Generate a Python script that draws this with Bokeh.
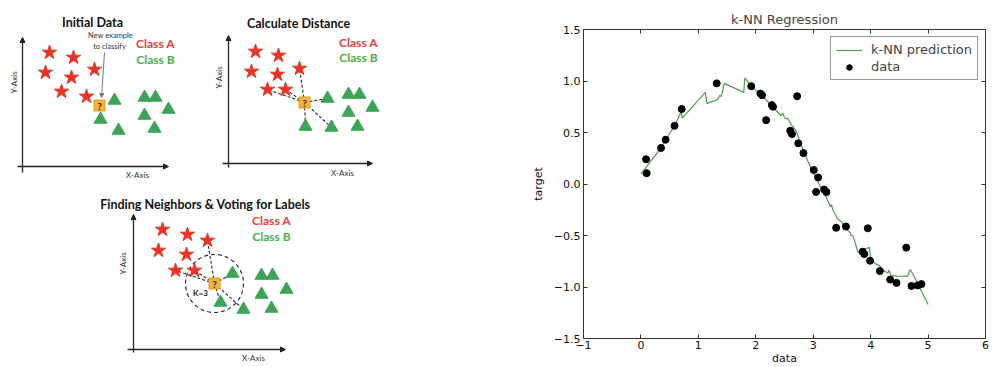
import numpy as np
from bokeh.plotting import figure
from bokeh.models import (Range1d, FixedTicker, LinearAxis, Legend, LegendItem,
                          Arrow, NormalHead, Spacer)
from bokeh.layouts import row, column
from bokeh.core.properties import value
from bokeh.embed import file_html
from bokeh.resources import INLINE

# ---------------- k-NN regression data (right chart) ----------------
data_x = [0.09, 0.10, 0.35, 0.43, 0.585, 0.71, 1.32, 1.92, 2.08, 2.11, 2.18, 2.28,
          2.30, 2.60, 2.63, 2.72, 2.74, 2.83, 3.01, 3.05, 3.085, 3.19, 3.23, 3.40,
          3.57, 3.86, 3.89, 3.95, 3.99, 4.16, 4.34, 4.45, 4.62, 4.71, 4.82, 4.885]
data_y = [0.24, 0.105, 0.35, 0.43, 0.565, 0.728, 0.977, 0.95, 0.878, 0.862, 0.62, 0.766,
          0.75, 0.517, 0.485, 0.852, 0.395, 0.30, 0.136, -0.077, 0.063, -0.054, -0.078, -0.425,
          -0.413, -0.657, -0.68, -0.43, -0.745, -0.845, -0.928, -0.96, -0.618, -0.99, -0.985, -0.972]

pred_x = [0.0, 0.35, 0.43, 0.585, 0.70, 0.72, 1.12, 1.15, 1.22, 1.27, 1.32, 1.35, 1.37,
          1.40, 1.45, 1.79, 1.81, 1.92, 2.10, 2.29, 2.44, 2.47, 2.50, 2.56, 2.62, 2.70,
          2.76, 2.85, 2.96, 3.02, 3.11, 3.22, 3.30, 3.32, 3.34, 3.43, 3.47, 3.50, 3.57,
          3.64, 3.66, 3.69, 3.72, 3.78, 3.86, 3.98, 4.00, 4.10, 4.15, 4.22, 4.30, 4.32,
          4.35, 4.46, 4.64, 4.69, 4.76, 5.00]
pred_y = [0.095, 0.35, 0.43, 0.565, 0.70, 0.64, 0.89, 0.78, 0.80, 0.805, 0.815, 0.83, 0.86,
          0.85, 0.977, 0.89, 1.03, 0.95, 0.86, 0.755, 0.66, 0.69, 0.64, 0.635, 0.574, 0.52,
          0.424, 0.296, 0.152, 0.088, -0.01, -0.12, -0.22, -0.20, -0.25, -0.34, -0.36, -0.37,
          -0.44, -0.47, -0.50, -0.50, -0.55, -0.665, -0.64, -0.615, -0.74, -0.78, -0.79,
          -0.84, -0.865, -0.838, -0.886, -0.895, -0.896, -0.83, -0.90, -1.17]

x_ticks = [-1, 0, 1, 2, 3, 4, 5, 6]
x_tick_labels = ["\u22121", "0", "1", "2", "3", "4", "5", "6"]
y_ticks = [-1.5, -1.0, -0.5, 0.0, 0.5, 1.0, 1.5]
y_tick_labels = ["\u22121.5", "\u22121.0", "\u22120.5", "0.0", "0.5", "1.0", "1.5"]

# ---------------- illustration data (left panels, local units) ----------------
p1_star_x = [2.7, 5.1, 2.3, 4.9, 7.2, 3.9, 6.4]
p1_star_y = [11.4, 10.9, 9.4, 8.9, 9.7, 7.5, 7.0]
p1_tri_x = [9.2, 7.8, 9.6, 12.2, 13.3, 12.2, 14.6, 13.2]
p1_tri_y = [6.6, 4.7, 3.6, 6.9, 6.9, 5.1, 5.7, 3.8]
p1_new = (7.7, 6.1)

p2_star_x = [2.7, 5.0, 2.3, 4.9, 7.1, 3.9, 5.7]
p2_star_y = [11.2, 10.8, 9.2, 8.9, 9.5, 7.4, 7.4]
p2_tri_x = [9.9, 12.0, 13.1, 12.0, 14.4, 7.7, 10.3, 12.9]
p2_tri_y = [6.5, 6.9, 6.9, 5.1, 5.6, 3.7, 3.6, 3.7]
p2_new = (7.6, 6.1)

p3_star_x = [2.9, 5.4, 7.4, 2.5, 5.3, 4.2, 6.1]
p3_star_y = [12.0, 11.5, 10.9, 9.9, 9.5, 7.9, 7.9]
p3_tri_x = [9.9, 12.8, 13.9, 12.8, 15.3, 8.7, 11.0, 13.8]
p3_tri_y = [7.6, 7.4, 7.4, 5.5, 6.0, 4.7, 4.0, 4.1]
p3_new = (8.1, 6.6)
k_radius = 2.9

near_stars = [4, 5, 6]
near_tris = [0, 5, 6]
near_stars_p3 = [2, 5, 6]

RED = "#ea3326"
GREEN = "#3da555"
ORANGE = "#f6b23a"
CLS_A = "#f03a3a"
CLS_B = "#4cae4c"
FONT = "Lato"


def panel(w, h, xr, yr):
    p = figure(width=w, height=h, x_range=Range1d(*xr), y_range=Range1d(*yr),
               output_backend="svg", toolbar_location=None, min_border=0)
    p.axis.visible = False
    p.grid.visible = False
    p.outline_line_color = None
    p.background_fill_color = "white"
    p.border_fill_color = "white"
    return p


def draw_axes(p, ytop, xright, ybot, xleft, ylab, xlab):
    for (xs, ys, xe, ye) in [(0, ybot, 0, ytop), (xleft, 0, xright, 0)]:
        p.add_layout(Arrow(x_start=xs, y_start=ys, x_end=xe, y_end=ye,
                           line_color="#222222", line_width=1.3,
                           end=NormalHead(size=5, fill_color="#222222", line_color="#222222")))
    p.text(x=[ylab[0]], y=[ylab[1]], text=["Y-Axis"], angle=np.pi / 2,
           text_font=value(FONT), text_font_size="8px", text_color="#333333",
           text_align="center", text_baseline="middle")
    p.text(x=[xlab[0]], y=[xlab[1]], text=["X-Axis"],
           text_font=value(FONT), text_font_size="8px", text_color="#333333",
           text_align="center", text_baseline="middle")


def draw_points(p, sx, sy, tx, ty, new):
    p.scatter(sx, sy, marker="star", size=15, fill_color=RED, line_color=RED)
    p.scatter(tx, ty, marker="triangle", size=13, fill_color=GREEN, line_color=GREEN)
    p.scatter([new[0]], [new[1]], marker="square", size=11, fill_color=ORANGE, line_color="#e09a20")
    p.text(x=[new[0]], y=[new[1]], text=["?"], text_font=value(FONT), text_font_style="bold",
           text_font_size="10px", text_color="#222222", text_align="center", text_baseline="middle")


def draw_titles(p, title, tpos, apos, bpos):
    p.text(x=[tpos[0]], y=[tpos[1]], text=[title], text_font=value(FONT), text_font_style="bold",
           text_font_size="12.5px", text_color="#111111", text_align="center", text_baseline="middle")
    p.text(x=[apos[0]], y=[apos[1]], text=["Class A"], text_font=value(FONT), text_font_style="bold",
           text_font_size="12px", text_color=CLS_A, text_align="center", text_baseline="middle")
    p.text(x=[bpos[0]], y=[bpos[1]], text=["Class B"], text_font=value(FONT), text_font_style="bold",
           text_font_size="12px", text_color=CLS_B, text_align="center", text_baseline="middle")


def draw_links(p, sx, sy, tx, ty, new, si, ti):
    x1 = [sx[i] for i in si] + [tx[i] for i in ti]
    y1 = [sy[i] for i in si] + [ty[i] for i in ti]
    n = len(x1)
    p.segment(x0=[new[0]] * n, y0=[new[1]] * n, x1=x1, y1=y1,
              line_color="#333333", line_width=1.2, line_dash="3 2")


# Panel 1: Initial Data
p1 = panel(200, 180, (-2.2, 17.8), (-1.4, 16.6))
draw_axes(p1, 12.9, 14.6, -0.6, -0.5, (-0.9, 8.4), (11.5, -0.8))
draw_titles(p1, "Initial Data", (7.0, 14.4), (13.3, 12.3), (13.3, 10.7))
p1.text(x=[8.8, 8.7], y=[13.1, 12.0], text=["New example", "to classify"],
        text_font=value(FONT), text_font_size="7.5px", text_color="#333333",
        text_align="center", text_baseline="middle")
p1.add_layout(Arrow(x_start=8.2, y_start=11.4, x_end=7.9, y_end=6.9,
                    line_color="#777777", line_width=1,
                    end=NormalHead(size=4, fill_color="#777777", line_color="#777777")))
draw_points(p1, p1_star_x, p1_star_y, p1_tri_x, p1_tri_y, p1_new)

# Panel 2: Calculate Distance
p2 = panel(200, 180, (-2.8, 17.2), (-1.7, 16.3))
draw_axes(p2, 12.8, 14.4, -0.4, -0.6, (-1.0, 8.6), (11.4, -0.9))
draw_titles(p2, "Calculate Distance", (7.0, 14.0), (13.0, 12.1), (13.0, 10.6))
draw_links(p2, p2_star_x, p2_star_y, p2_tri_x, p2_tri_y, p2_new, near_stars, near_tris)
draw_points(p2, p2_star_x, p2_star_y, p2_tri_x, p2_tri_y, p2_new)

# Panel 3: Finding Neighbors & Voting for Labels
p3 = panel(230, 187, (-3.3, 19.7), (-1.8, 16.9))
draw_axes(p3, 13.5, 15.2, -0.3, -0.6, (-1.1, 8.6), (12.0, -0.8))
draw_titles(p3, "Finding Neighbors & Voting for Labels", (7.2, 14.5), (13.8, 12.9), (13.8, 11.3))
p3.circle(x=[p3_new[0]], y=[p3_new[1]], radius=k_radius, fill_color=None,
          line_color="#333333", line_width=1.2, line_dash="4 3")
draw_links(p3, p3_star_x, p3_star_y, p3_tri_x, p3_tri_y, p3_new, near_stars_p3, near_tris)
draw_points(p3, p3_star_x, p3_star_y, p3_tri_x, p3_tri_y, p3_new)
p3.text(x=[6.7], y=[5.7], text=["K=3"], text_font=value(FONT), text_font_style="bold",
        text_font_size="8px", text_color="#222222", text_align="center", text_baseline="middle")

# ---------------- right chart ----------------
pr = figure(width=477, height=367, x_range=Range1d(-1, 6), y_range=Range1d(-1.5, 1.5),
            output_backend="svg", toolbar_location=None,
            min_border_left=54, min_border_right=20, min_border_top=29, min_border_bottom=25,
            title="k-NN Regression")
pr.title.align = "center"
pr.title.text_font = "DejaVu Sans"
pr.title.text_font_size = "13px"
pr.title.text_font_style = "normal"
pr.title.standoff = 5
pr.grid.visible = False
pr.outline_line_color = "#333333"
pr.outline_line_width = 1
pr.background_fill_color = "white"
pr.border_fill_color = "white"

for ax, ticks, labels in [(pr.xaxis[0], x_ticks, x_tick_labels), (pr.yaxis[0], y_ticks, y_tick_labels)]:
    ax.ticker = FixedTicker(ticks=ticks)
    ax.major_label_overrides = {t: l for t, l in zip(ticks, labels)}
    ax.axis_line_color = None
    ax.major_tick_in = 4
    ax.major_tick_out = 0
    ax.major_tick_line_color = "#333333"
    ax.minor_tick_line_color = None
    ax.major_label_text_font = "DejaVu Sans"
    ax.major_label_text_font_size = "11px"
    ax.major_label_text_color = "#111111"

pr.xaxis.major_label_standoff = 2
pr.yaxis.major_label_standoff = 3
for ax, lab in [(pr.xaxis[0], "data"), (pr.yaxis[0], "target")]:
    ax.axis_label = lab
    ax.axis_label_text_font = "DejaVu Sans"
    ax.axis_label_text_font_size = "11px"
    ax.axis_label_text_font_style = "normal"
    ax.axis_label_text_color = "#111111"
pr.xaxis.axis_label_standoff = 0
pr.yaxis.axis_label_standoff = 6

for loc, ticks in [("above", x_ticks), ("right", y_ticks)]:
    a = LinearAxis(ticker=FixedTicker(ticks=ticks), major_label_text_font_size="1px",
                   major_label_text_color=None, major_label_standoff=0, axis_line_color=None,
                   major_tick_in=4, major_tick_out=0, major_tick_line_color="#333333",
                   minor_tick_line_color=None)
    pr.add_layout(a, loc)

line_r = pr.line(pred_x, pred_y, line_color="#4f9f4f", line_width=1.2)
dots_r = pr.scatter(data_x, data_y, size=7, fill_color="black", line_color="black")

legend = Legend(items=[LegendItem(label="k-NN prediction", renderers=[line_r]),
                       LegendItem(label="data", renderers=[dots_r])],
                location="top_right", margin=7, padding=5, spacing=2,
                glyph_width=26, glyph_height=14, label_height=14, label_standoff=9,
                label_text_font="DejaVu Sans", label_text_font_size="13px",
                border_line_color="#333333", border_line_width=1,
                background_fill_color="white", background_fill_alpha=1)
pr.add_layout(legend)

left = column(row(p1, p2, Spacer(width=128, height=180)),
              row(Spacer(width=100, height=187), p3, Spacer(width=198, height=187)))
layout = row(left, pr)

open("out.html", "w").write(file_html(layout, INLINE))
